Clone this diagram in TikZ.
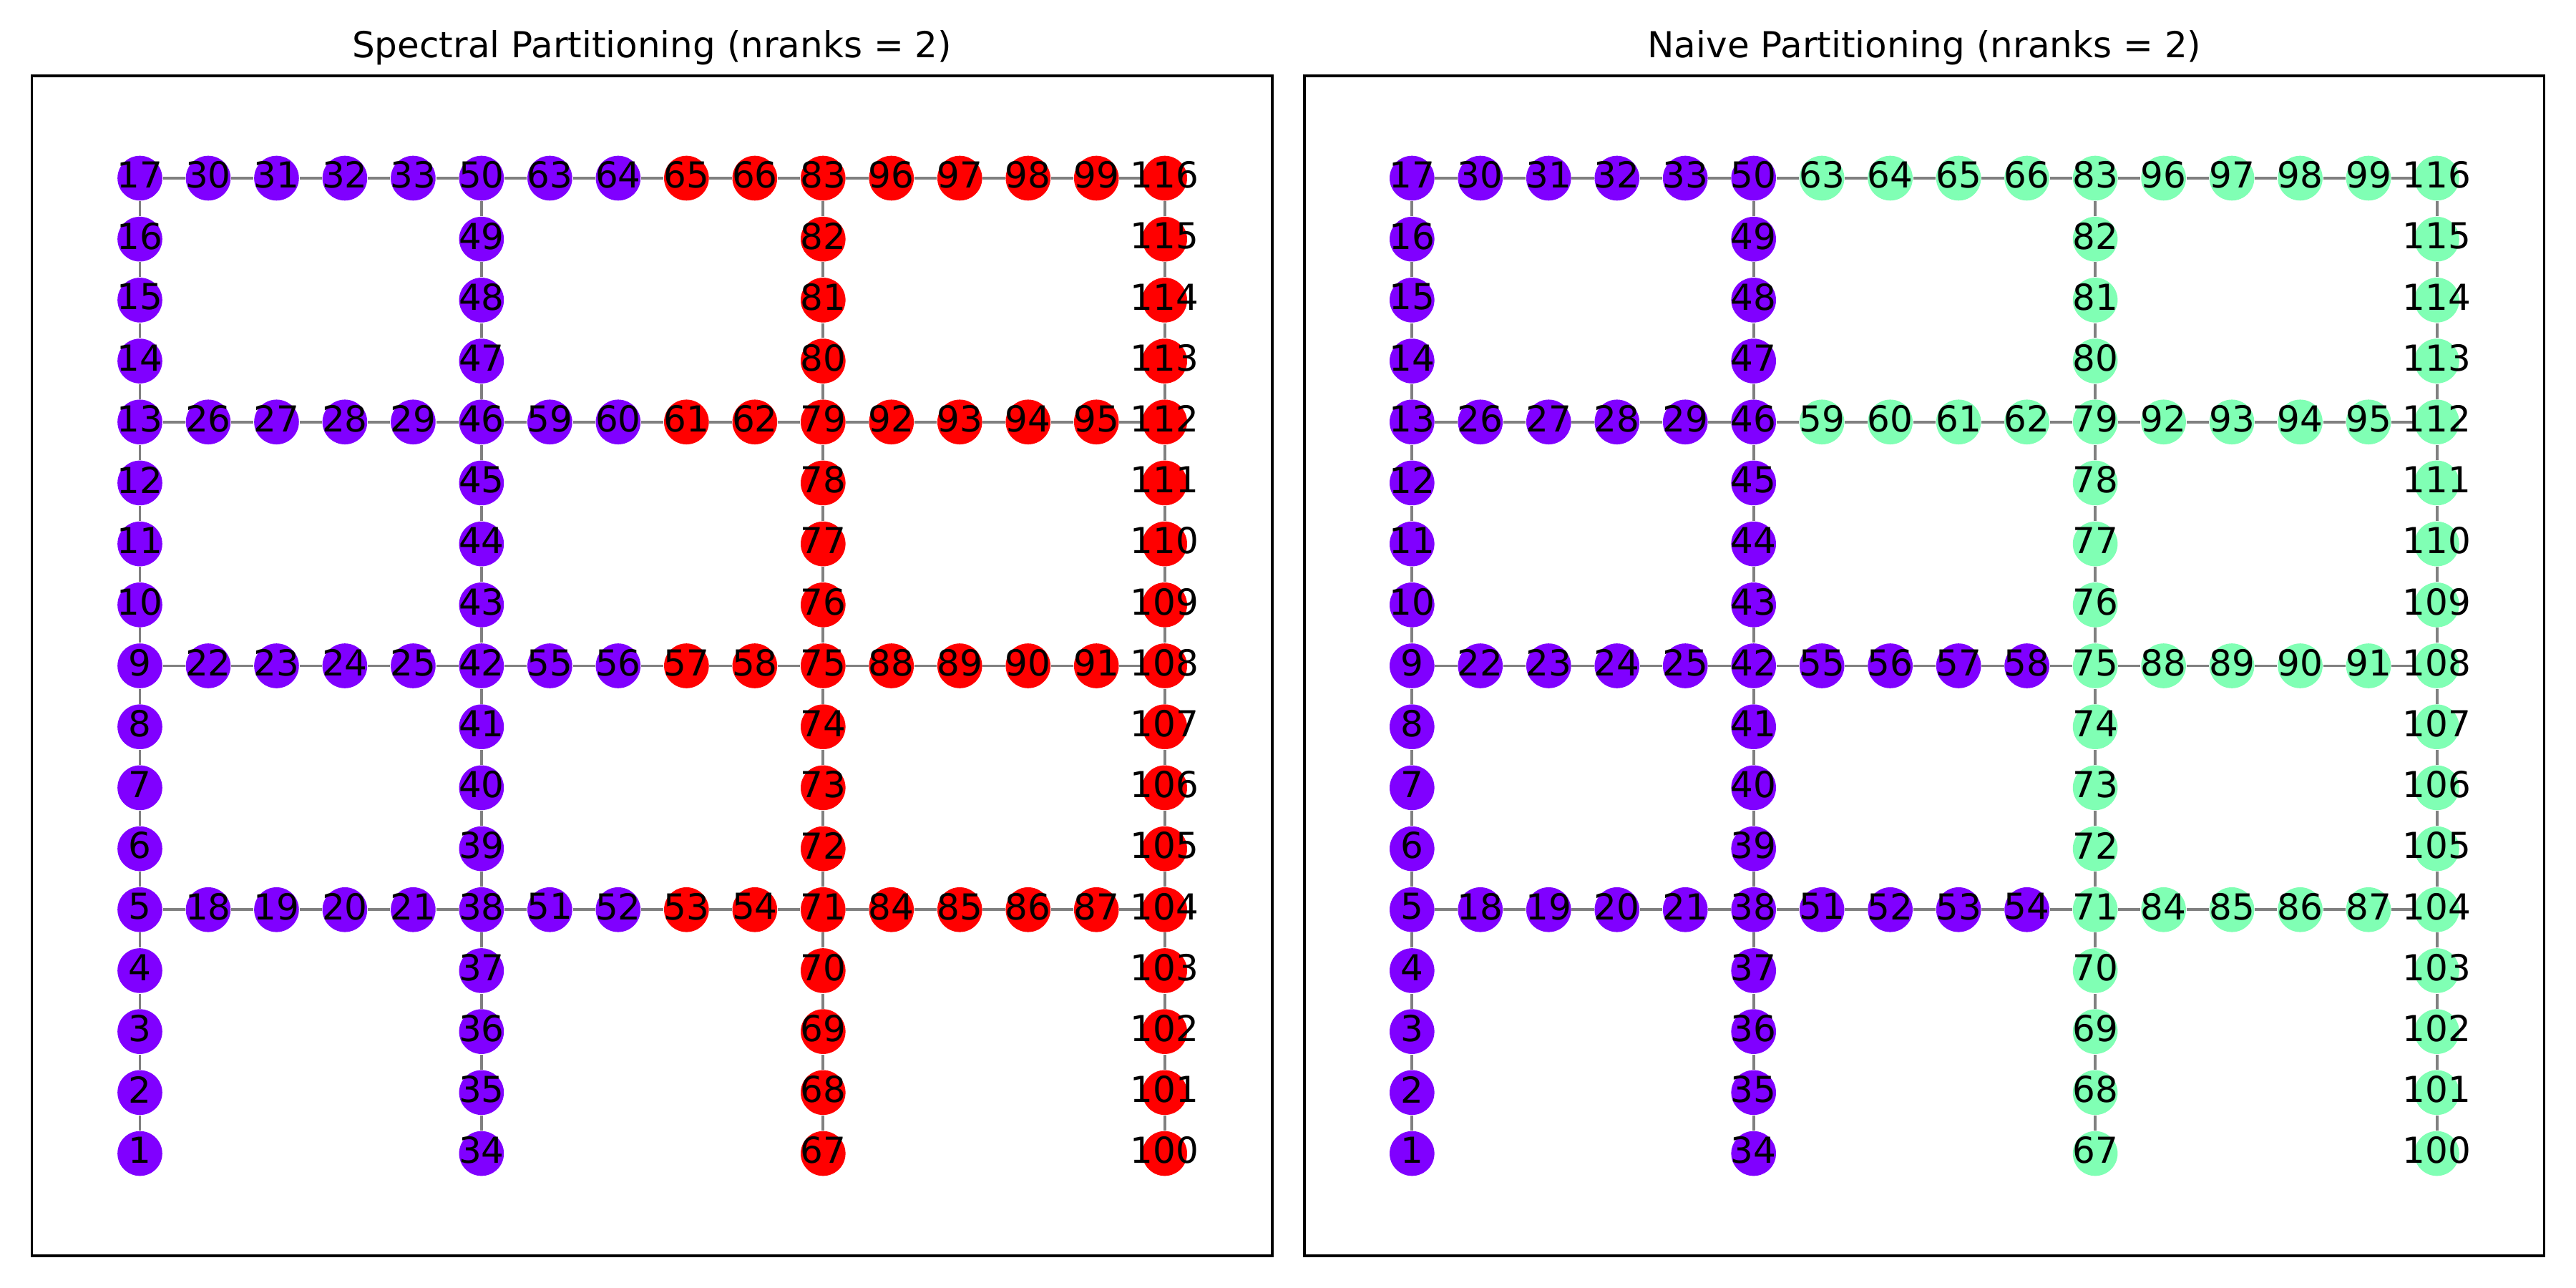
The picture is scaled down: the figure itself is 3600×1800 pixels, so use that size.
\documentclass[tikz,border=0pt]{standalone}
\usepackage{fontspec}
\setmainfont{DejaVu Sans}
\definecolor{cpurple}{HTML}{8000FF}
\definecolor{cred}{HTML}{FF0000}
\definecolor{cgreen}{HTML}{80FFB4}
\definecolor{cedge}{HTML}{808080}
\pgfdeclarelayer{bg}
\pgfsetlayers{bg,main}
\tikzset{
  vert/.style={circle, fill=#1, draw=none, inner sep=0pt, minimum size=62.6*0.24bp},
  lbl/.style={inner sep=0pt, text=black, yshift=1.05bp, font=\fontsize{12.045}{14}\selectfont},
  edgeline/.style={draw=cedge, line width=0.95bp},
  frame/.style={draw=black, line width=0.8bp},
  ttl/.style={anchor=base, inner sep=0pt, font=\fontsize{12.045}{14}\selectfont}
}
% #1 prefix, #2 x of column 0, #3 scheme (1 spectral, 2 naive)
\newcommand\graphpanel[3]{%
  \foreach \id in {1,...,116} {%
    \pgfmathtruncatemacro\blk{int((\id-1)/33)}%
    \pgfmathtruncatemacro\kk{\id-33*\blk}%
    \ifnum\kk<18
      \pgfmathtruncatemacro\cc{5*\blk}%
      \pgfmathtruncatemacro\rr{17-\kk}%
      \def\pp{9}%
    \else
      \pgfmathtruncatemacro\jj{\kk-18}%
      \pgfmathtruncatemacro\gg{int(\jj/4)}%
      \pgfmathtruncatemacro\pp{\jj-4*\gg}%
      \pgfmathtruncatemacro\cc{5*\blk+1+\pp}%
      \pgfmathtruncatemacro\rr{12-4*\gg}%
    \fi
    \ifnum#3=1
      \def\vc{cred}%
      \ifnum\blk=0 \def\vc{cpurple}\fi
      \ifnum\blk=1
        \ifnum\kk<18 \def\vc{cpurple}\fi
        \ifnum\pp<2 \def\vc{cpurple}\fi
      \fi
    \else
      \ifnum\id<59 \def\vc{cpurple}\else \def\vc{cgreen}\fi
    \fi
    \node[vert=\vc, label={[lbl]center:\id}] (#1\id) at ({#2+95.48*\cc},{249+85.19*\rr}) {};
  }%
  \begin{pgfonlayer}{bg}
    \foreach \b in {0,...,3} {%
      \foreach \k in {1,...,16} {%
        \pgfmathtruncatemacro\ia{33*\b+\k}%
        \pgfmathtruncatemacro\ib{\ia+1}%
        \draw[edgeline] (#1\ia) -- (#1\ib);
      }%
    }%
    \foreach \b in {0,...,2} {%
      \foreach \g in {0,...,3} {%
        \pgfmathtruncatemacro\na{33*\b+5+4*\g}%
        \pgfmathtruncatemacro\nb{33*\b+18+4*\g}%
        \pgfmathtruncatemacro\nc{\nb+1}%
        \pgfmathtruncatemacro\nd{\nb+2}%
        \pgfmathtruncatemacro\ne{\nb+3}%
        \pgfmathtruncatemacro\nf{33*\b+38+4*\g}%
        \draw[edgeline] (#1\na) -- (#1\nb) -- (#1\nc) -- (#1\nd) -- (#1\ne) -- (#1\nf);
      }%
    }%
  \end{pgfonlayer}
}
\begin{document}
\begin{tikzpicture}[x=0.24bp, y=-0.24bp]
\useasboundingbox (0,0) rectangle (3600,1800);
\begin{pgfonlayer}{bg}
\fill[white] (0,0) rectangle (3600,1800);
\end{pgfonlayer}
% left panel
\draw[frame] (44.5,106) rectangle (1778,1755);
\node[ttl] (Ltitle) at (911.2,81) {Spectral Partitioning (nranks = 2)};
\graphpanel{L}{195.5}{1}
% right panel
\draw[frame] (1823,106) rectangle (3555.7,1755);
\node[ttl] (Rtitle) at (2689.4,81) {Naive Partitioning (nranks = 2)};
\graphpanel{R}{1973.3}{2}
\end{tikzpicture}
\end{document}
